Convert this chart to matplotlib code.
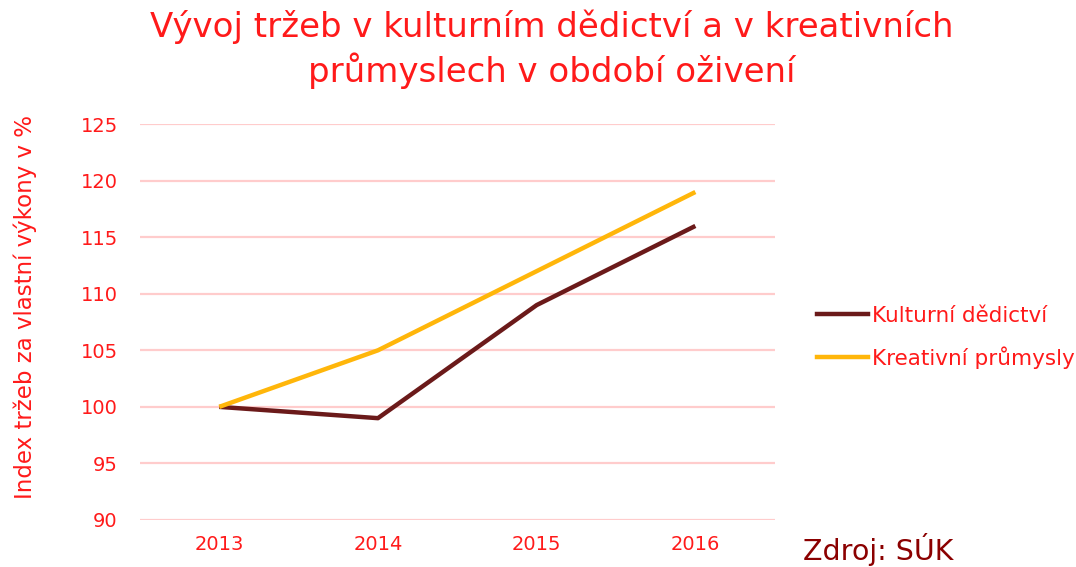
import matplotlib
matplotlib.use("Agg")
import matplotlib.pyplot as plt
from matplotlib.lines import Line2D

years = ["2013", "2014", "2015", "2016"]
kulturni = [100, 99, 109, 116]
kreativni = [100, 105, 112, 119]
series_names = ["Kulturní dědictví", "Kreativní průmysly"]
yticks = [90, 95, 100, 105, 110, 115, 120, 125]

RED = "#FF1A1A"
BROWN = "#6B1A1A"
YELLOW = "#FFB60A"

plt.rcParams["font.family"] = ["DejaVu Sans"]

fig = plt.figure(figsize=(10.76, 5.67), dpi=100)
ax = fig.add_axes([0.130, 0.083, 0.590, 0.698])

x = range(len(years))
ax.plot(x, kulturni, color=BROWN, lw=3.2, solid_capstyle="butt", zorder=3)
ax.plot(x, kreativni, color=YELLOW, lw=3.2, solid_capstyle="butt", zorder=3)

ax.set_xlim(-0.5, 3.5)
ax.set_ylim(90, 125)
ax.set_yticks(yticks)
ax.set_xticks(list(x))
ax.set_xticklabels(years)
for y in yticks:
    ax.axhline(y, color="#FFCCCC", lw=1.6, zorder=1)
for s in ax.spines.values():
    s.set_visible(False)
ax.tick_params(length=0, colors=RED, labelsize=14)
ax.tick_params(axis="y", pad=16)
ax.tick_params(axis="x", pad=11)
ax.set_ylabel("Index tržeb za vlastní výkony v %", color=RED, fontsize=16.5)
ax.yaxis.set_label_coords(-0.162, 0.538)

fig.text(0.513, 0.983, "Vývoj tržeb v kulturním dědictví a v kreativních\nprůmyslech v období oživení",
         color=RED, fontsize=24.5, ha="center", va="top", linespacing=1.28)

handles = [Line2D([], [], color=BROWN, lw=3.2), Line2D([], [], color=YELLOW, lw=3.2)]
leg = fig.legend(handles, series_names, loc="center left", bbox_to_anchor=(0.759, 0.405),
                 frameon=False, fontsize=15.5, handlelength=2.4, handletextpad=0.15,
                 labelspacing=0.95, borderaxespad=0, borderpad=0)
for t in leg.get_texts():
    t.set_color(RED)

fig.text(0.746, 0.012, "Zdroj: SÚK", color="#8B0000", fontsize=20.5)

fig.savefig("out.png", dpi=100)
